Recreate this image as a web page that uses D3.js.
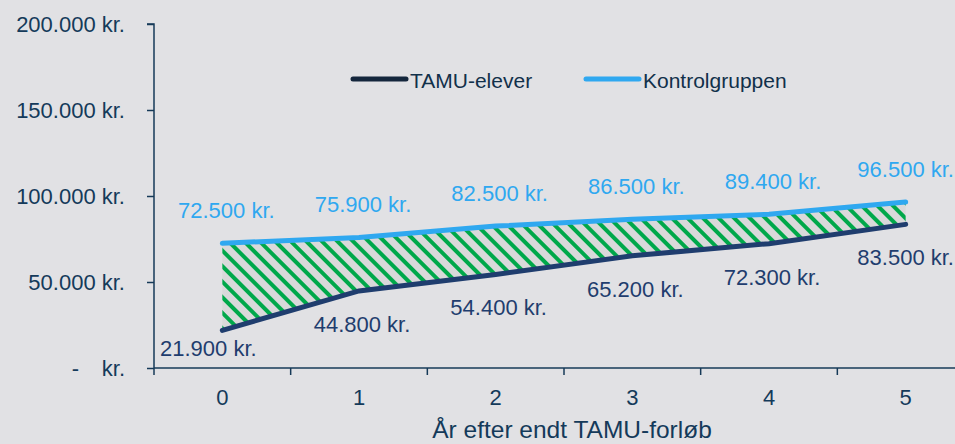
<!DOCTYPE html>
<html><head><meta charset="utf-8">
<script src="https://cdn.jsdelivr.net/npm/d3@7"></script>
<style>
html,body{margin:0;padding:0;background:#e1e1e4;}
svg{display:block;font-family:"Liberation Sans",Arial,sans-serif;}
</style></head>
<body>
<script>
const categories = ["0","1","2","3","4","5"];
const tamu = [21900, 44800, 54400, 65200, 72300, 83500];
const kontrol = [72500, 75900, 82500, 86500, 89400, 96500];
const yTicks = [0, 50000, 100000, 150000, 200000];
const seriesNames = ["TAMU-elever", "Kontrolgruppen"];
const xTitle = "År efter endt TAMU-forløb";

const W = 955, H = 444;
const navy = "#1f3d6e", light = "#2fa8f0", axisCol = "#163a58", green = "#00a84a", txtCol = "#143a5a";
const fmt = v => v === 0 ? "-   \u2009kr." : d3.format(",.0f")(v).replace(/,/g, ".") + " kr.";

const svg = d3.select("body").append("svg").attr("width", W).attr("height", H);
const x = d3.scaleBand().domain(categories).range([154, 974]).padding(0);
const y = d3.scaleLinear().domain([0, 200000]).range([368, 24]);
const cx = c => x(c) + x.bandwidth() / 2;

const defs = svg.append("defs");
const pat = defs.append("pattern").attr("id", "hatch").attr("patternUnits", "userSpaceOnUse")
  .attr("width", 11).attr("height", 11).attr("patternTransform", "rotate(-45)");
pat.append("rect").attr("width", 11).attr("height", 11).attr("fill", "#d9d9da");
pat.append("rect").attr("width", 4).attr("height", 11).attr("fill", green);

// area between
const areaData = categories.map((c, i) => ({c, lo: tamu[i], hi: kontrol[i]}));
svg.append("path").datum(areaData)
  .attr("d", d3.area().x(d => cx(d.c)).y0(d => y(d.lo)).y1(d => y(d.hi)))
  .attr("fill", "url(#hatch)");

// axes
const yAxis = svg.append("g").attr("transform", "translate(154,0)")
  .call(d3.axisLeft(y).tickValues(yTicks).tickFormat(fmt).tickSize(7).tickPadding(22));
yAxis.select(".domain").attr("stroke", axisCol).attr("stroke-width", 1.5).attr("d", "M-7,24H0V368");
yAxis.selectAll(".tick line").attr("stroke", axisCol).attr("stroke-width", 1.5);
yAxis.selectAll(".tick text").attr("fill", txtCol).style("font-size", "22px").style("white-space", "pre");

const xAxis = svg.append("g").attr("transform", "translate(0,368)")
  .call(d3.axisBottom(x).tickSize(0).tickPadding(21));
xAxis.select(".domain").attr("stroke", axisCol).attr("stroke-width", 1.5).attr("d", "M154,0H955");
xAxis.selectAll(".tick text").attr("fill", txtCol).style("font-size", "22px");
xAxis.selectAll(".bt").data(categories).enter().append("line")
  .attr("x1", d => x(d)).attr("x2", d => x(d)).attr("y1", 0).attr("y2", 7)
  .attr("stroke", axisCol).attr("stroke-width", 1.5);

svg.append("text").attr("x", 572).attr("y", 438).attr("text-anchor", "middle")
  .attr("fill", txtCol).style("font-size", "24.5px").text(xTitle);

// lines
const line = d3.line().x((d, i) => cx(categories[i])).y(d => y(d));
svg.append("path").datum(kontrol).attr("d", line).attr("fill", "none")
  .attr("stroke", light).attr("stroke-width", 5).attr("stroke-linecap", "round");
svg.append("path").datum(tamu).attr("d", line).attr("fill", "none")
  .attr("stroke", navy).attr("stroke-width", 5).attr("stroke-linecap", "round");

// labels
const lab = v => d3.format(",.0f")(v).replace(/,/g, ".") + " kr.";
svg.selectAll(".kl").data(kontrol).enter().append("text")
  .attr("x", (d, i) => cx(categories[i]) + (i === 5 ? 0 : 4))
  .attr("y", d => y(d) - 25).attr("text-anchor", "middle")
  .attr("fill", light).style("font-size", "22px").text(lab);
svg.selectAll(".tl").data(tamu).enter().append("text")
  .attr("x", (d, i) => cx(categories[i]) + (i === 0 ? -14 : i === 5 ? 0 : 3))
  .attr("y", (d, i) => y(d) + (i === 0 ? 26 : 41)).attr("text-anchor", "middle")
  .attr("fill", navy).style("font-size", "22px").text(lab);

// legend
const leg = [{n: seriesNames[0], c: "#14263c", x: 353}, {n: seriesNames[1], c: light, x: 586}];
leg.forEach(l => {
  svg.append("line").attr("x1", l.x).attr("x2", l.x + 53).attr("y1", 79).attr("y2", 79)
    .attr("stroke", l.c).attr("stroke-width", 5).attr("stroke-linecap", "round");
  svg.append("text").attr("x", l.x + 57).attr("y", 88).attr("fill", "#11304a")
    .style("font-size", "21px").text(l.n);
});
</script>
</body></html>
